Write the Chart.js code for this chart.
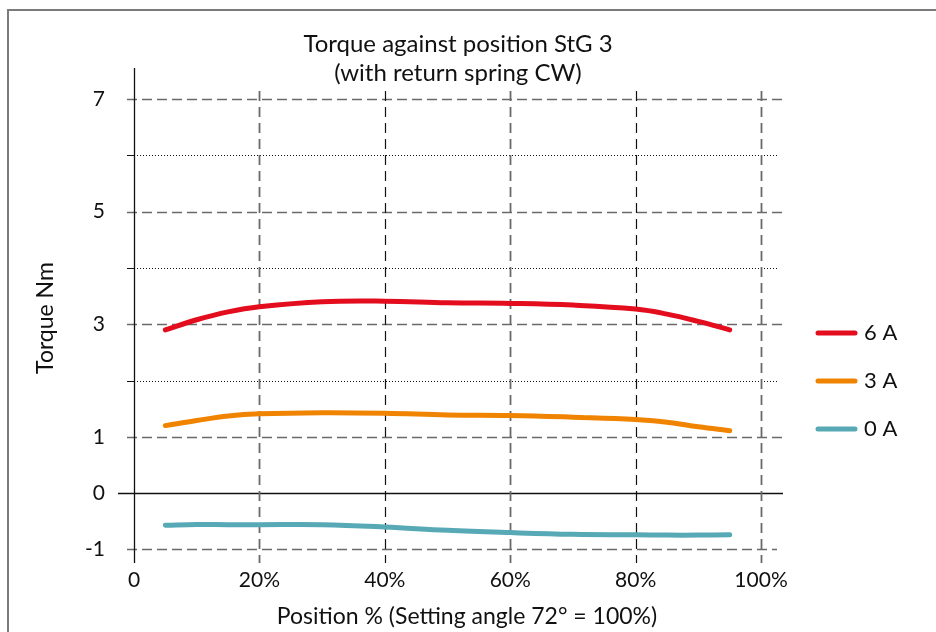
<!DOCTYPE html>
<html lang="en">
<head>
    <meta charset="UTF-8">
    <title>Torque against position StG 3</title>
    <script src="https://cdn.jsdelivr.net/npm/chart.js"></script>
    <style>
        html, body {
            margin: 0;
            padding: 0;
            background: #fff;
            overflow: hidden;
        }
        .wrap {
            position: relative;
            width: 936px;
            height: 632px;
            overflow: hidden;
        }
        .frame {
            position: absolute;
            left: 7px;
            top: 9px;
            width: 960px;
            height: 660px;
            border-left: 2px solid #7b7b7b;
            border-top: 2px solid #7b7b7b;
        }
        canvas {
            position: absolute;
            left: 0;
            top: 0;
        }
    </style>
</head>
<body>
<div class="wrap">
    <div class="frame"></div>
    <canvas id="torqueChart" width="936" height="632"></canvas>
</div>

<script>
    // values
    const positions = [5, 10, 15, 20, 30, 40, 50, 60, 70, 80, 85, 90, 95];
    const torque6A = [2.90, 3.08, 3.22, 3.31, 3.40, 3.41, 3.38, 3.37, 3.34, 3.27, 3.18, 3.05, 2.90];
    const torque3A = [1.20, 1.29, 1.37, 1.41, 1.43, 1.42, 1.39, 1.38, 1.35, 1.31, 1.26, 1.18, 1.11];
    const torque0A = [-0.57, -0.555, -0.56, -0.56, -0.56, -0.60, -0.66, -0.70, -0.73, -0.74, -0.745, -0.745, -0.74];

    const seriesNames = ["6 A", "3 A", "0 A"];
    const seriesColors = ["#e30d1d", "#f08300", "#56a9b5"];

    const xTicks = [0, 20, 40, 60, 80, 100];
    const xTickLabels = ["0", "20%", "40%", "60%", "80%", "100%"];
    const yTicks = [-1, 0, 1, 2, 3, 4, 5, 6, 7];
    const yLabelled = [-1, 0, 1, 3, 5, 7];

    const titleLines = ["Torque against position StG 3", "(with return spring CW)"];
    const xTitle = "Position % (Setting angle 72° = 100%)";
    const yTitle = "Torque Nm";

    const FONT = "Lato, 'Open Sans', sans-serif";

    const decor = {
        id: "decor",
        beforeDatasetsDraw(chart) {
            const ctx = chart.ctx;
            const xs = chart.scales.x;
            const ys = chart.scales.y;
            const top7 = ys.getPixelForValue(7);
            ctx.save();

            // horizontal grid
            yTicks.forEach(v => {
                const py = Math.round(ys.getPixelForValue(v)) + 0.5;
                ctx.beginPath();
                if (v === 0) {
                    ctx.setLineDash([]);
                    ctx.strokeStyle = "#111";
                    ctx.lineWidth = 1.3;
                    ctx.moveTo(xs.left - 16, py);
                    ctx.lineTo(xs.right, py);
                } else if (v % 2 !== 0) {
                    ctx.setLineDash([10, 5]);
                    ctx.strokeStyle = "#6a6a6a";
                    ctx.lineWidth = 1.6;
                    ctx.moveTo(xs.left - 7, py);
                    ctx.lineTo(v === -1 ? xs.right - 6 : xs.right, py);
                } else {
                    ctx.setLineDash([]);
                    ctx.strokeStyle = "#111";
                    ctx.lineWidth = 1;
                    ctx.moveTo(xs.left - 7, py);
                    ctx.lineTo(xs.left, py);
                    ctx.stroke();
                    ctx.beginPath();
                    ctx.setLineDash([1, 2]);
                    ctx.moveTo(xs.left, py);
                    ctx.lineTo(xs.right - 5, py);
                }
                ctx.stroke();
            });

            // vertical grid
            xTicks.forEach((v, i) => {
                if (v === 0) return;
                const px = Math.round(xs.getPixelForValue(v)) + 0.5;
                ctx.beginPath();
                ctx.setLineDash([10, 6]);
                if (i % 2 === 1) {
                    ctx.strokeStyle = "#6a6a6a";
                    ctx.lineWidth = 1.8;
                } else {
                    ctx.strokeStyle = "#111";
                    ctx.lineWidth = 1.2;
                }
                ctx.moveTo(px, top7 - 8);
                ctx.lineTo(px, ys.bottom);
                ctx.stroke();
            });

            // y axis line
            const ax = Math.round(xs.getPixelForValue(0)) + 0.5;
            ctx.beginPath();
            ctx.setLineDash([]);
            ctx.strokeStyle = "#111";
            ctx.lineWidth = 1.3;
            ctx.moveTo(ax, ys.top);
            ctx.lineTo(ax, ys.bottom);
            ctx.stroke();

            // tick labels
            ctx.fillStyle = "#111";
            ctx.font = "21px " + FONT;
            ctx.textAlign = "right";
            ctx.textBaseline = "middle";
            yLabelled.forEach(v => {
                ctx.fillText(String(v), 105, ys.getPixelForValue(v));
            });
            ctx.textAlign = "center";
            xTicks.forEach((v, i) => {
                ctx.fillText(xTickLabels[i], xs.getPixelForValue(v), 580);
            });

            // titles
            ctx.font = "24px " + FONT;
            ctx.fillText(titleLines[0], 458, 44);
            ctx.fillText(titleLines[1], 458, 73);
            ctx.font = "23px " + FONT;
            ctx.fillText(xTitle, 467, 617);
            ctx.save();
            ctx.translate(46, 318);
            ctx.rotate(-Math.PI / 2);
            ctx.fillText(yTitle, 0, 0);
            ctx.restore();

            // legend
            ctx.lineCap = "round";
            ctx.lineWidth = 5;
            ctx.textAlign = "left";
            ctx.font = "22px " + FONT;
            seriesNames.forEach((name, i) => {
                const ly = 333 + i * 48;
                ctx.beginPath();
                ctx.strokeStyle = seriesColors[i];
                ctx.moveTo(818, ly);
                ctx.lineTo(855, ly);
                ctx.stroke();
                ctx.fillStyle = "#111";
                ctx.fillText(name, 864, ly);
            });

            ctx.restore();
        }
    };

    const seriesData = [torque6A, torque3A, torque0A];
    const datasets = seriesData.map((vals, i) => ({
        label: seriesNames[i],
        data: positions.map((p, j) => ({ x: p, y: vals[j] })),
        borderColor: seriesColors[i],
        borderWidth: 5,
        borderCapStyle: "round",
        pointRadius: 0,
        fill: false,
        tension: 0.4
    }));

    new Chart(document.getElementById("torqueChart").getContext("2d"), {
        type: "line",
        data: { datasets: datasets },
        options: {
            responsive: false,
            animation: false,
            devicePixelRatio: 1,
            layout: {
                padding: { left: 134, right: 153, top: 68, bottom: 69 }
            },
            plugins: {
                legend: { display: false },
                title: { display: false },
                tooltip: { enabled: false }
            },
            scales: {
                x: { type: "linear", display: false, min: 0, max: 103.5 },
                y: { type: "linear", display: false, min: -1.24, max: 7.55 }
            }
        },
        plugins: [decor]
    });
</script>
</body>
</html>
